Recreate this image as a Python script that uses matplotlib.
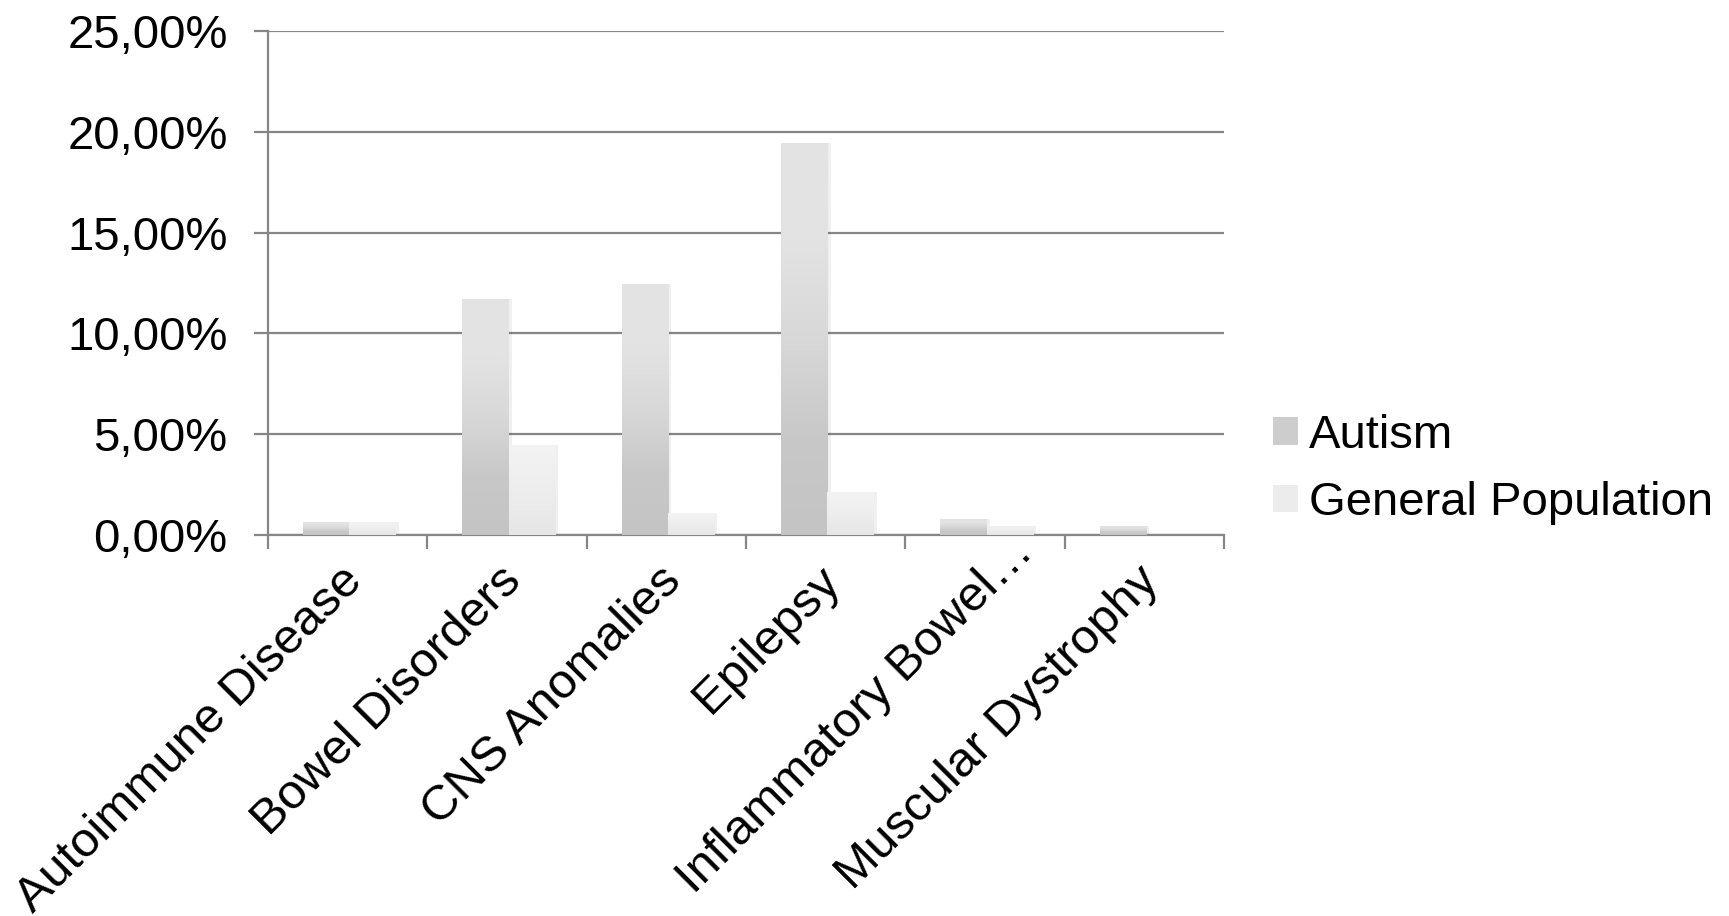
import matplotlib

matplotlib.use("Agg")
import matplotlib.pyplot as plt
import matplotlib.transforms as mtransforms
import numpy as np
from matplotlib.colors import LinearSegmentedColormap
from matplotlib.patches import Patch
from matplotlib.ticker import FixedLocator, FuncFormatter

plt.rcParams["font.family"] = ["Liberation Sans", "DejaVu Sans"]

categories = [
    "Autoimmune Disease",
    "Bowel Disorders",
    "CNS Anomalies",
    "Epilepsy",
    "Inflammatory Bowel…",
    "Muscular Dystrophy",
]
autism = [0.66, 11.73, 12.43, 19.44, 0.80, 0.45]
general_population = [0.66, 4.47, 1.11, 2.12, 0.46, 0.0]
series_names = ["Autism", "General Population"]

GRID = "#868686"
FS = 34

# bottom -> top shading of each bar
autism_cmap = LinearSegmentedColormap.from_list(
    "autism", ["#c4c4c4", "#c8c8c8", "#d8d8d8", "#e3e3e3", "#e3e3e3"]
)
general_cmap = LinearSegmentedColormap.from_list(
    "general", ["#e6e6e6", "#ebebeb", "#f0f0f0", "#f3f3f3"]
)


def _shade_bars(ax, bars, cmap):
    grad = np.linspace(0, 1, 256).reshape(-1, 1)
    for bar in bars:
        x0, y0 = bar.get_x(), bar.get_y()
        w, h = bar.get_width(), bar.get_height()
        if h <= 0:
            continue
        # soft drop shadow to the right
        ax.bar(x0 + w / 2 + 0.02, h + 0.08, width=w, bottom=-0.08,
               color="#000000", alpha=0.06, zorder=2.5, linewidth=0)
        img = ax.imshow(grad, extent=(x0, x0 + w, y0, y0 + h), origin="lower",
                        cmap=cmap, aspect="auto", zorder=3, interpolation="bicubic")
        img.set_clip_path(bar)
        bar.set_facecolor("none")


fig = plt.figure(figsize=(17.29, 9.16), dpi=100)
ax = fig.add_axes([0.155, 0.416, 0.553, 0.55])

x = np.arange(len(categories))
w = 0.29
b1 = ax.bar(x - w / 2 + 0.01, autism, width=w, linewidth=0, zorder=3)
b2 = ax.bar(x + w / 2 + 0.01, general_population, width=w, linewidth=0, zorder=3)
_shade_bars(ax, b1, autism_cmap)
_shade_bars(ax, b2, general_cmap)

ax.set_xlim(-0.5, len(categories) - 0.5)
ax.set_ylim(0, 25)
ax.set_yticks(np.arange(0, 26, 5))
ax.yaxis.set_major_formatter(FuncFormatter(lambda v, _: f"{v:.2f}%".replace(".", ",")))
ax.grid(axis="y", color=GRID, linewidth=1.6, zorder=0)
ax.set_axisbelow(True)

for side in ("top", "right"):
    ax.spines[side].set_visible(False)
for side in ("left", "bottom"):
    ax.spines[side].set_color(GRID)
    ax.spines[side].set_linewidth(1.6)

ax.tick_params(axis="y", length=10, width=1.6, color=GRID, pad=19, labelsize=FS)

ax.set_xticks(x)
ax.set_xticklabels(categories, rotation=45, ha="right", va="top",
                   rotation_mode="anchor", fontsize=35.5)
ax.xaxis.set_minor_locator(FixedLocator(np.arange(-0.5, len(categories), 1.0)))
ax.tick_params(axis="x", which="major", length=0, pad=21)
ax.tick_params(axis="x", which="minor", length=10, width=1.6, color=GRID)

# nudge the slanted labels; the truncated one sits further along its slant
for lbl in ax.get_xticklabels():
    dx, dy = (17.9, 25.2) if lbl.get_text().endswith("…") else (-5.9, 4.3)
    shift = mtransforms.ScaledTranslation(dx / 72, dy / 72, fig.dpi_scale_trans)
    lbl.set_transform(lbl.get_transform() + shift)

handles = [Patch(facecolor="#cdcdcd"), Patch(facecolor="#ececec")]
fig.legend(handles, series_names, loc="center left", bbox_to_anchor=(0.736, 0.4875),
           frameon=False, fontsize=FS, handlelength=0.53, handleheight=0.53,
           handletextpad=0.25, labelspacing=0.5, borderpad=0, borderaxespad=0)

fig.savefig("out.png", dpi=100)
